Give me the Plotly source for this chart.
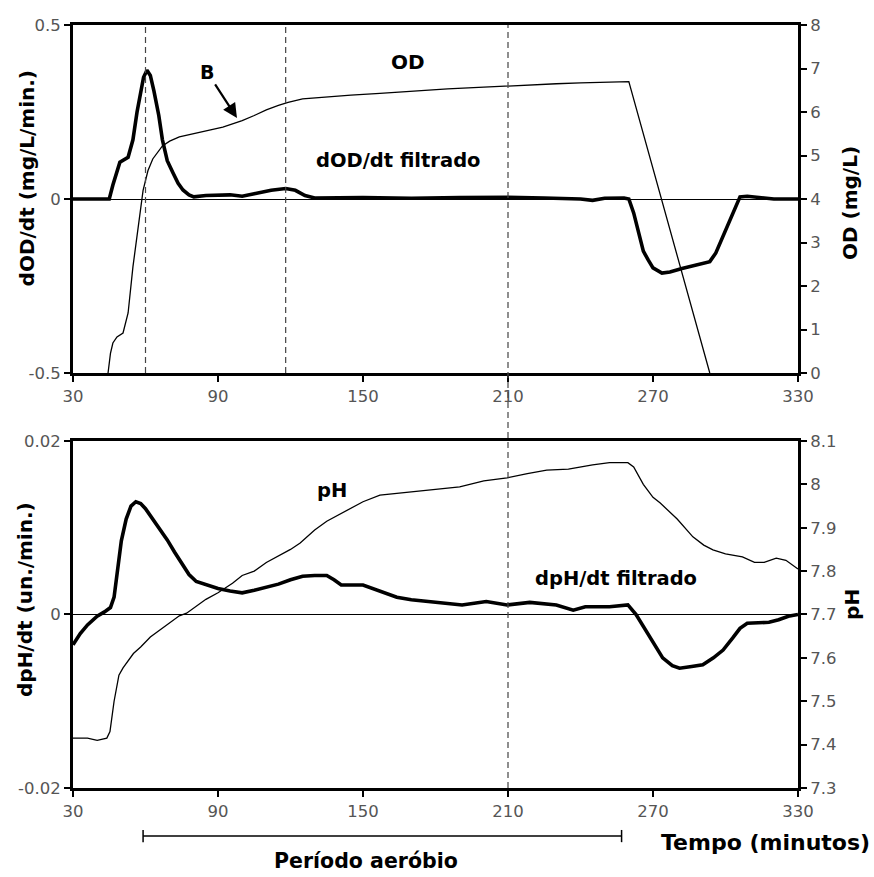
import plotly.graph_objects as go

# ---------------- data ----------------
# Top panel: OD (mg/L, right axis)
od_t = [44.5, 45.5, 46.5, 48.2, 50.7, 52.8, 54.8, 56.9, 58.0, 59.0, 61.0, 63.0, 67.0, 70.0, 74.0,
        80.0, 86.0, 92.0, 96.0, 100.0, 105.0, 110.0, 115.0, 119.0, 125.0, 135.0, 145.0, 157.0,
        170.0, 185.0, 200.0, 210.0, 220.0, 230.0, 240.0, 250.0, 259.0, 260.0, 293.5]
od_v = [0.0, 0.45, 0.69, 0.83, 0.92, 1.38, 2.44, 3.36, 3.9, 4.2, 4.65, 4.92, 5.22, 5.33, 5.43,
        5.51, 5.58, 5.65, 5.72, 5.8, 5.92, 6.05, 6.15, 6.22, 6.3, 6.35, 6.39, 6.43,
        6.48, 6.53, 6.57, 6.6, 6.63, 6.65, 6.67, 6.68, 6.7, 6.7, 0.0]

# Top panel: dOD/dt filtrado (mg/L/min, left axis)
dod_t = [30, 45, 46.5, 47.5, 49.4, 52.8, 54.8, 56.5, 57.7, 59.2, 60.6, 62.0, 63.5, 65.5, 67.0,
         69.0, 71.4, 73.5, 75.5, 78.0, 80.0, 85.0, 95.0, 100.0, 105.0, 112.0, 118.0, 122.0,
         126.0, 130.0, 150.0, 170.0, 190.0, 210.0, 225.0, 240.0, 245.0, 250.0, 258.0, 260.0,
         262.0, 264.0, 266.0, 268.0, 270.0, 273.7, 277.0, 282.0, 288.0, 293.5, 296.0, 298.5,
         300.5, 302.5, 304.5, 306.0, 309.0, 315.0, 320.0, 330.0]
dod_v = [0.0, 0.0, 0.04, 0.063, 0.106, 0.12, 0.17, 0.25, 0.30, 0.35, 0.37, 0.355, 0.31, 0.24, 0.17,
         0.11, 0.075, 0.045, 0.026, 0.012, 0.006, 0.01, 0.012, 0.008, 0.015, 0.025, 0.03, 0.025,
         0.01, 0.003, 0.004, 0.002, 0.004, 0.005, 0.003, 0.0, -0.004, 0.002, 0.003, 0.0,
         -0.04, -0.1, -0.15, -0.175, -0.198, -0.213, -0.21, -0.2, -0.19, -0.18, -0.155, -0.115,
         -0.08, -0.045, -0.015, 0.006, 0.008, 0.003, 0.0, 0.0]

# Bottom panel: pH (right axis)
ph_t = [30, 36, 40, 44, 45.3, 47, 49, 50.7, 55, 58, 62, 66, 70, 74, 77, 81, 85, 90, 96, 100, 105,
        110, 115, 120, 124, 130, 135, 143, 150, 157, 165, 177.7, 190, 200, 209.6, 218, 226,
        235, 245, 252, 259.6, 262, 266, 270, 273, 280, 286.5, 291, 294.8, 300, 307, 312, 316,
        321, 325, 330]
ph_v = [7.415, 7.415, 7.41, 7.415, 7.43, 7.5, 7.56, 7.577, 7.61, 7.625, 7.648, 7.665, 7.68, 7.697,
        7.703, 7.72, 7.735, 7.75, 7.772, 7.79, 7.8, 7.82, 7.835, 7.85, 7.865, 7.895, 7.915,
        7.94, 7.96, 7.975, 7.98, 7.987, 7.994, 8.008, 8.015, 8.025, 8.033, 8.035, 8.045, 8.05,
        8.05, 8.04, 8.0, 7.97, 7.957, 7.92, 7.879, 7.86, 7.849, 7.84, 7.833, 7.82, 7.82, 7.83,
        7.825, 7.805]

# Bottom panel: dpH/dt filtrado (un./min, left axis)
dph_t = [30, 33, 36, 40, 43, 45.5, 47, 48.5, 50, 52, 54, 56, 58, 60, 63, 66, 69, 72, 75, 78,
         81, 85, 90, 95, 100, 105, 110, 115, 120, 125, 130, 135, 138, 141, 150, 156, 164, 170,
         180, 191, 201, 209.6, 219, 230, 237, 242, 252, 259.6, 263, 266, 270, 274, 278, 281,
         286, 290.6, 295, 299, 303, 306, 309, 314, 318, 322, 326, 330]
dph_v = [-0.0035, -0.0022, -0.0012, -0.0002, 0.0003, 0.0008, 0.002, 0.005, 0.0085, 0.011,
         0.0125, 0.013, 0.0128, 0.0122, 0.011, 0.0098, 0.0086, 0.0072, 0.0058, 0.0046, 0.0038,
         0.0034, 0.003, 0.0027, 0.0025, 0.0028, 0.0031, 0.0035, 0.004, 0.0044, 0.0045, 0.0045,
         0.004, 0.0034, 0.0034, 0.0028, 0.002, 0.0017, 0.0014, 0.0011, 0.0015, 0.0011, 0.0014,
         0.0011, 0.0005, 0.0009, 0.0009, 0.0011, 0.0, -0.0014, -0.0033, -0.005, -0.0059,
         -0.0062, -0.006, -0.0058, -0.005, -0.0041, -0.0027, -0.0016, -0.001, -0.001, -0.0009,
         -0.0006, -0.0002, 0.0]

# ticks
x_ticks = [30, 90, 150, 210, 270, 330]
y1_ticks = [-0.5, 0, 0.5]
y1_text = ["-0.5", "0", "0.5"]
y2_ticks = [0, 1, 2, 3, 4, 5, 6, 7, 8]
y3_ticks = [-0.02, 0, 0.02]
y3_text = ["-0.02", "0", "0.02"]
y4_ticks = [7.3, 7.4, 7.5, 7.6, 7.7, 7.8, 7.9, 8.0, 8.1]
y4_text = ["7.3", "7.4", "7.5", "7.6", "7.7", "7.8", "7.9", "8", "8.1"]

# markers of events
dashed_top = [60, 118]
dashed_full = [210]
aerobic = [59, 257]

# ---------------- figure ----------------
FONT = "DejaVu Sans, Verdana, sans-serif"
TICKFONT = dict(family=FONT, size=16.5, color="#555555")
THICK = 3.6
THIN = 1.3

fig = go.Figure()
fig.add_trace(go.Scatter(x=dod_t, y=dod_v, mode="lines", line=dict(color="black", width=THICK),
                         xaxis="x", yaxis="y", name="dOD/dt filtrado"))
fig.add_trace(go.Scatter(x=od_t, y=od_v, mode="lines", line=dict(color="black", width=THIN),
                         xaxis="x", yaxis="y2", name="OD"))
fig.add_trace(go.Scatter(x=dph_t, y=dph_v, mode="lines", line=dict(color="black", width=THICK),
                         xaxis="x2", yaxis="y3", name="dpH/dt filtrado"))
fig.add_trace(go.Scatter(x=ph_t, y=ph_v, mode="lines", line=dict(color="black", width=THIN),
                         xaxis="x2", yaxis="y4", name="pH"))

top_dom = [0.5439, 1.0]
bot_dom = [0.0, 0.4548]

xcommon = dict(range=[30, 330], tickvals=x_ticks, showline=True, linewidth=3, linecolor="black",
               mirror=True, ticks="outside", ticklen=6, tickwidth=2, tickcolor="black",
               showgrid=False, zeroline=False, tickfont=TICKFONT, domain=[0, 1])
ycommon = dict(showline=True, linewidth=3, linecolor="black", ticks="outside", ticklen=6,
               tickwidth=2, tickcolor="black", showgrid=False, tickfont=TICKFONT)

fig.update_layout(
    width=874, height=877,
    margin=dict(l=73, r=76, t=25, b=89),
    paper_bgcolor="white", plot_bgcolor="white",
    showlegend=False,
    font=dict(family=FONT),
    xaxis=dict(anchor="y", **xcommon),
    xaxis2=dict(anchor="y3", **xcommon),
    yaxis=dict(domain=top_dom, anchor="x", range=[-0.5, 0.5], tickvals=y1_ticks, ticktext=y1_text,
               zeroline=True, zerolinecolor="black", zerolinewidth=1.2, **ycommon),
    yaxis2=dict(overlaying="y", anchor="x", side="right", range=[0, 8], tickvals=y2_ticks,
                zeroline=False, **ycommon),
    yaxis3=dict(domain=bot_dom, anchor="x2", range=[-0.02, 0.02], tickvals=y3_ticks, ticktext=y3_text,
                zeroline=True, zerolinecolor="black", zerolinewidth=1.2, **ycommon),
    yaxis4=dict(overlaying="y3", anchor="x2", side="right", range=[7.3, 8.1], tickvals=y4_ticks,
                ticktext=y4_text, zeroline=False, **ycommon),
)

shapes = []
for xv in dashed_top:
    shapes.append(dict(type="line", xref="x", yref="paper", x0=xv, x1=xv, y0=top_dom[0], y1=top_dom[1],
                       line=dict(color="#444444", width=1.2, dash="6px,4px"), layer="above"))
for xv in dashed_full:
    shapes.append(dict(type="line", xref="x", yref="paper", x0=xv, x1=xv, y0=0, y1=1,
                       line=dict(color="#444444", width=1.2, dash="6px,4px"), layer="above"))
# aerobic period bracket
shapes.append(dict(type="line", xref="x2", yref="paper", x0=aerobic[0], x1=aerobic[1], y0=-0.063, y1=-0.063,
                   line=dict(color="black", width=1.5)))
for xv in aerobic:
    shapes.append(dict(type="line", xref="x2", yref="paper", x0=xv, x1=xv, y0=-0.055, y1=-0.071,
                       line=dict(color="black", width=1.5)))
fig.update_layout(shapes=shapes)

bold = lambda s: dict(family=FONT, size=s, color="black", weight="bold")
ann = [
    dict(text="dOD/dt (mg/L/min.)", xref="paper", yref="paper", x=-0.0634, y=0.799, textangle=-90,
         showarrow=False, font=bold(20), xanchor="center", yanchor="middle"),
    dict(text="OD (mg/L)", xref="paper", yref="paper", x=1.0717, y=0.7667, textangle=-90,
         showarrow=False, font=bold(20), xanchor="center", yanchor="middle"),
    dict(text="dpH/dt (un./min.)", xref="paper", yref="paper", x=-0.0662, y=0.2464, textangle=-90,
         showarrow=False, font=bold(20), xanchor="center", yanchor="middle"),
    dict(text="pH", xref="paper", yref="paper", x=1.0745, y=0.24, textangle=-90,
         showarrow=False, font=bold(20), xanchor="center", yanchor="middle"),
    dict(text="Tempo (minutos)", xref="paper", yref="paper", x=1.102, y=-0.072,
         showarrow=False, font=bold(22), xanchor="right", yanchor="middle"),
    dict(text="Período aeróbio", xref="paper", yref="paper", x=0.404, y=-0.0955,
         showarrow=False, font=bold(20.5), xanchor="center", yanchor="middle"),
    dict(text="OD", xref="x", yref="y", x=168.6, y=0.394, showarrow=False, font=bold(20)),
    dict(text="dOD/dt filtrado", xref="x", yref="y", x=164.5, y=0.112, showarrow=False, font=bold(19.5)),
    dict(text="pH", xref="x2", yref="y3", x=137.2, y=0.01435, showarrow=False, font=bold(19.5)),
    dict(text="dpH/dt filtrado", xref="x2", yref="y3", x=254.7, y=0.0042, showarrow=False, font=bold(19.5)),
    dict(text="B", xref="x", yref="y", x=97.85, y=0.233, ax=-30, ay=-46, showarrow=True,
         arrowhead=2, arrowsize=1.3, arrowwidth=2.2, arrowcolor="black", font=bold(19)),
]
fig.update_layout(annotations=ann)

fig.write_html("out.html", config={"displayModeBar": False},
               post_script="document.body.style.margin='0';document.body.style.overflow='hidden';")
